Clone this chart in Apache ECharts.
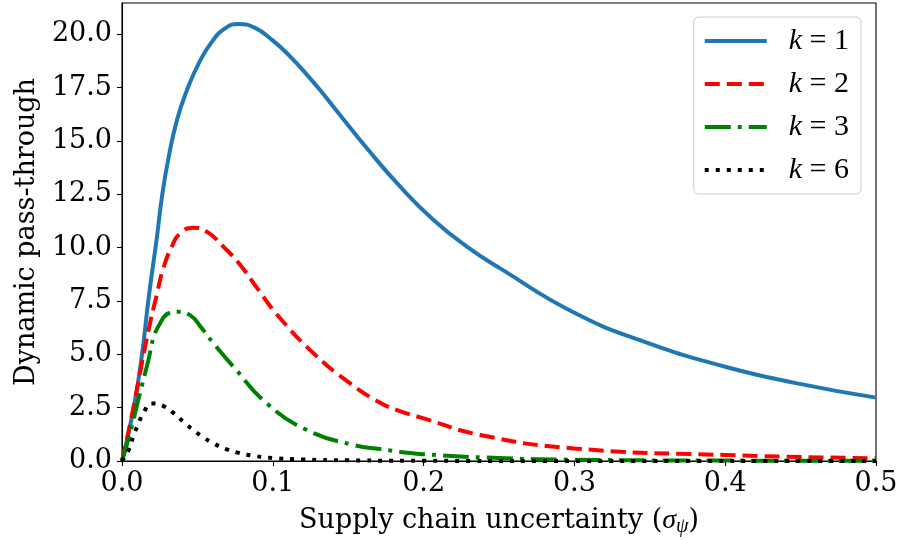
<!DOCTYPE html>
<html lang="en">
<head>
    <meta charset="UTF-8">
    <title>Dynamic pass-through</title>
    <script src="https://cdn.jsdelivr.net/npm/echarts@6/dist/echarts.min.js"></script>
    <style>
        html, body { margin: 0; padding: 0; background: #fff; }
    </style>
</head>
<body>
    <div style="width: 899px; height:540px" id="main"></div>
    <script type="text/javascript">
        // values
        var k1X = [0, 0.0075, 0.0133, 0.0175, 0.0232, 0.0265, 0.031, 0.0365, 0.0431, 0.0509, 0.0597, 0.0686, 0.0774, 0.0885, 0.0995, 0.1106, 0.1217, 0.1316, 0.1402, 0.1624, 0.1845, 0.2066, 0.2287, 0.2508, 0.3, 0.348, 0.4, 0.4477, 0.5];
        var k1Y = [0, 2.39, 5.0, 7.55, 10.52, 12.39, 14.27, 15.99, 17.39, 18.64, 19.66, 20.29, 20.49, 20.29, 19.74, 19.03, 18.18, 17.37, 16.61, 14.66, 12.86, 11.30, 10.05, 9.03, 6.95, 5.55, 4.42, 3.64, 2.97];

        var k2X = [0, 0.0064, 0.0119, 0.0175, 0.023, 0.0274, 0.033, 0.0385, 0.0473, 0.0562, 0.0672, 0.0783, 0.0905, 0.1026, 0.127, 0.1513, 0.1712, 0.1823, 0.2, 0.2376, 0.3, 0.4, 0.5];
        var k2Y = [0, 2.08, 4.11, 6.1, 7.78, 9.03, 10.05, 10.67, 10.94, 10.75, 10.05, 9.20, 8.02, 6.88, 5.05, 3.64, 2.73, 2.39, 2.0, 1.22, 0.59, 0.28, 0.13];

        var k3X = [0, 0.0053, 0.0119, 0.0175, 0.0208, 0.0252, 0.0307, 0.0363, 0.0451, 0.0529, 0.0606, 0.0739, 0.096, 0.1226, 0.1535, 0.1712, 0.2, 0.25, 0.3, 0.4, 0.5];
        var k3Y = [0, 1.30, 3.17, 4.73, 5.75, 6.45, 6.92, 7.0, 6.84, 6.22, 5.52, 4.42, 2.70, 1.45, 0.75, 0.56, 0.32, 0.14, 0.06, 0.02, 0.01];

        var k6X = [0, 0.0049, 0.0075, 0.0108, 0.0141, 0.0197, 0.0274, 0.0345, 0.0407, 0.0473, 0.054, 0.0613, 0.069, 0.0768, 0.0849, 0.1, 0.12, 0.15, 0.2, 0.3, 0.5];
        var k6Y = [0, 0.59, 1.17, 1.73, 2.23, 2.70, 2.58, 2.23, 1.84, 1.45, 1.11, 0.80, 0.56, 0.39, 0.27, 0.14, 0.07, 0.03, 0.01, 0, 0];

        var seriesNames = ['k1', 'k2', 'k3', 'k6'];
        var legendLabels = {k1: '1', k2: '2', k3: '3', k6: '6'};
        var xTicks = [0, 0.1, 0.2, 0.3, 0.4, 0.5];
        var yTicks = [0, 2.5, 5, 7.5, 10, 12.5, 15, 17.5, 20];

        var pairs = (xs, ys) => xs.map((x, i) => [x, ys[i]]);

        var serif = 'DejaVu Serif';
        var mathFont = 'Liberation Serif';

        var styles = {
            k1: {color: '#1f77b4', type: 'solid'},
            k2: {color: '#ff0000', type: [15, 7]},
            k3: {color: '#008000', type: [26, 7, 4, 7]},
            k6: {color: '#000000', type: [4, 7]}
        };

        var makeLine = (name, xs, ys) => ({
            name: name,
            type: 'line',
            data: pairs(xs, ys),
            symbol: 'none',
            smooth: 0.5,
            clip: true,
            lineStyle: {color: styles[name].color, width: 4, type: styles[name].type, cap: 'butt'},
            itemStyle: {color: styles[name].color},
            emphasis: {disabled: true}
        });

        var myChart = echarts.init(document.getElementById('main'));
        var option = {
            animation: false,
            backgroundColor: '#fff',
            grid: {
                left: 122, right: 23, top: 3, bottom: 79,
                outerBoundsMode: 'none',
                containLabel: false,
                show: true, borderColor: '#000', borderWidth: 1.1, backgroundColor: 'transparent'
            },
            legend: {
                data: seriesNames.map(n => ({
                    name: n,
                    itemStyle: {color: 'transparent', borderWidth: 0},
                    lineStyle: {color: styles[n].color, width: 4, type: styles[n].type, cap: 'butt'}
                })),
                orient: 'vertical',
                right: 38,
                top: 17,
                padding: [9, 12, 9, 9],
                itemGap: 13,
                itemWidth: 62,
                itemHeight: 14,
                backgroundColor: 'rgba(255,255,255,0.8)',
                borderColor: '#cccccc',
                borderWidth: 1,
                borderRadius: 5,
                formatter: name => '{i|k}{n| = ' + legendLabels[name] + '}',
                textStyle: {
                    padding: [0, 0, 0, 17],
                    rich: {
                        i: {fontFamily: mathFont, fontStyle: 'italic', fontSize: 30, color: '#000'},
                        n: {fontFamily: mathFont, fontSize: 30, color: '#000'}
                    }
                }
            },
            xAxis: {
                type: 'value',
                min: 0,
                max: 0.5,
                interval: 0.1,
                name: 'Supply chain uncertainty ({s|σ}{sub|ψ})',
                nameLocation: 'middle',
                nameGap: 44,
                nameTextStyle: {
                    fontFamily: serif, fontSize: 27, color: '#000',
                    rich: {
                        s: {fontFamily: mathFont, fontStyle: 'italic', fontSize: 28, color: '#000'},
                        sub: {fontFamily: mathFont, fontStyle: 'italic', fontSize: 20, color: '#000', verticalAlign: 'bottom', padding: [12, 0, 0, 0]}
                    }
                },
                splitLine: {show: false},
                axisLine: {show: true, onZero: false, lineStyle: {color: '#000', width: 1.1}},
                axisTick: {show: true, inside: false, length: 5, lineStyle: {color: '#000', width: 1.1}, customValues: xTicks},
                axisLabel: {
                    margin: 9, fontFamily: serif, fontSize: 27, color: '#000',
                    customValues: xTicks,
                    formatter: v => v.toFixed(1)
                }
            },
            yAxis: {
                type: 'value',
                min: 0,
                max: 21.47,
                interval: 2.5,
                name: 'Dynamic pass-through',
                nameLocation: 'middle',
                nameGap: 80,
                nameTextStyle: {fontFamily: serif, fontSize: 27, color: '#000'},
                splitLine: {show: false},
                axisLine: {show: true, onZero: false, lineStyle: {color: '#000', width: 1.1}},
                axisTick: {show: true, inside: false, length: 5, lineStyle: {color: '#000', width: 1.1}, customValues: yTicks},
                axisLabel: {
                    margin: 10, fontFamily: serif, fontSize: 27, color: '#000',
                    customValues: yTicks,
                    formatter: v => v.toFixed(1)
                }
            },
            series: seriesNames.map((n, i) => makeLine(n, [k1X, k2X, k3X, k6X][i], [k1Y, k2Y, k3Y, k6Y][i]))
        };
        myChart.setOption(option);
    </script>
</body>
</html>
